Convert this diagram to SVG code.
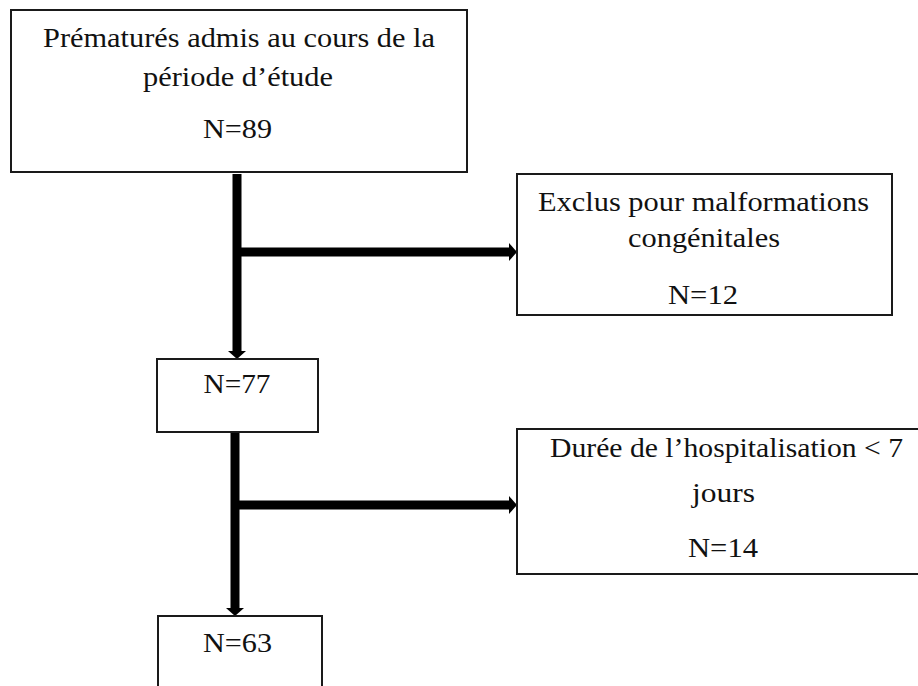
<svg xmlns="http://www.w3.org/2000/svg" width="918" height="686" viewBox="0 0 918 686">
<defs>
<style>
.box{fill:#fff;stroke:#1a1a1a;stroke-width:2}
.t{font-family:'Liberation Serif',serif;font-size:28px;fill:#111;text-anchor:middle}
.c{stroke:#000;stroke-width:9;fill:none;marker-end:url(#ah)}
</style>
<marker id="ah" markerUnits="userSpaceOnUse" markerWidth="8" markerHeight="18" viewBox="0 0 8 18" refX="0" refY="9" orient="auto">
<path d="M0,0 L8,9 L0,18 z" fill="#000"/>
</marker>
</defs>
<rect width="918" height="686" fill="#fff"/>
<g id="connectors">
<line class="c" x1="237" y1="174" x2="237" y2="351"/>
<line class="c" x1="241" y1="252" x2="509" y2="252"/>
<line class="c" x1="235" y1="432" x2="235" y2="608"/>
<line class="c" x1="239" y1="505" x2="509" y2="505"/>
</g>
<g id="n1">
<rect class="box" x="11" y="10" width="456" height="162"/>
<text class="t" x="239" y="47" textLength="392" lengthAdjust="spacingAndGlyphs">Prématurés admis au cours de la</text>
<text class="t" x="238" y="86" textLength="190" lengthAdjust="spacingAndGlyphs">période d’étude</text>
<text class="t" x="237.5" y="138" textLength="69" lengthAdjust="spacingAndGlyphs">N=89</text>
</g>
<g id="n2">
<rect class="box" x="517" y="174" width="375" height="141"/>
<text class="t" x="703.5" y="211" textLength="331" lengthAdjust="spacingAndGlyphs">Exclus pour malformations</text>
<text class="t" x="704" y="247" textLength="152" lengthAdjust="spacingAndGlyphs">congénitales</text>
<text class="t" x="703" y="304" textLength="70" lengthAdjust="spacingAndGlyphs">N=12</text>
</g>
<g id="n3">
<rect class="box" x="157" y="359" width="161" height="73"/>
<text class="t" x="237" y="393" textLength="67" lengthAdjust="spacingAndGlyphs">N=77</text>
</g>
<g id="n4">
<rect class="box" x="517" y="429" width="420" height="145"/>
<text class="t" x="726.5" y="457" textLength="353" lengthAdjust="spacingAndGlyphs">Durée de l’hospitalisation &lt; 7</text>
<text class="t" x="723.5" y="502" textLength="63" lengthAdjust="spacingAndGlyphs">jours</text>
<text class="t" x="723" y="557" textLength="70" lengthAdjust="spacingAndGlyphs">N=14</text>
</g>
<g id="n5">
<rect class="box" x="158" y="616" width="164" height="90"/>
<text class="t" x="237.5" y="652" textLength="69" lengthAdjust="spacingAndGlyphs">N=63</text>
</g>
</svg>
